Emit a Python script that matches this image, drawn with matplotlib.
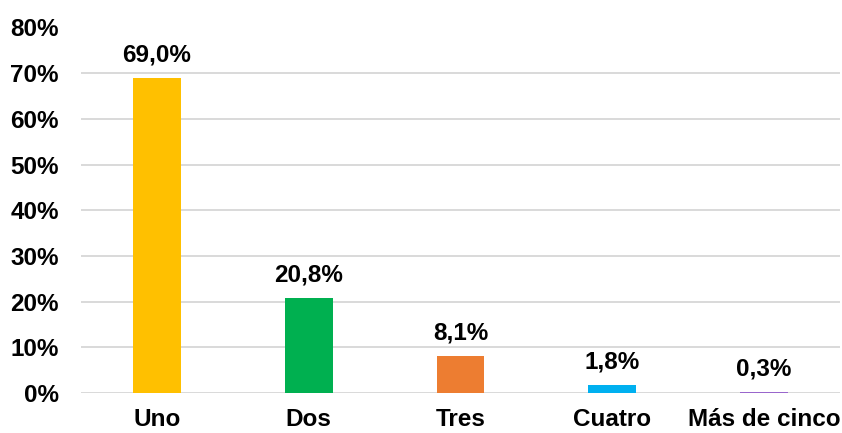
import matplotlib
matplotlib.use("Agg")
import matplotlib.pyplot as plt
from matplotlib.ticker import FuncFormatter

categories = ["Uno", "Dos", "Tres", "Cuatro", "Más de cinco"]
values = [69.0, 20.8, 8.1, 1.8, 0.3]
labels = ["69,0%", "20,8%", "8,1%", "1,8%", "0,3%"]
colors = ["#FFC000", "#00B050", "#ED7D31", "#00B0F0", "#9966CC"]

plt.rcParams['font.family'] = ['Liberation Sans', 'DejaVu Sans']
plt.rcParams['font.weight'] = 'bold'

fig = plt.figure(figsize=(8.42, 4.33), dpi=100)
ax = fig.add_axes([81/842, 1-393/433, (840-81)/842, (393-27.5)/433])

x = list(range(len(categories)))
bars = ax.bar(x, values, width=0.316, color=colors, zorder=3)
ax.set_xlim(-0.5, len(categories)-0.5)
ax.set_ylim(0, 80)
ax.set_yticks(range(0, 81, 10))
ax.yaxis.set_major_formatter(FuncFormatter(lambda v, p: f"{int(v)}%"))
ax.set_xticks(x)
ax.set_xticklabels(categories)
ax.grid(axis='y', color='#D9D9D9', linewidth=1.4, zorder=0)
for s in ax.spines.values():
    s.set_visible(False)
ax.tick_params(axis='both', length=0, labelsize=17.5)
ax.tick_params(axis='y', pad=16)
ax.tick_params(axis='x', pad=11)
for lab in ax.get_xticklabels() + ax.get_yticklabels():
    lab.set_fontweight('bold')

for xi, v, t in zip(x, values, labels):
    ax.annotate(t, (xi, v), xytext=(0, 8), textcoords='offset points',
                ha='center', va='bottom', fontsize=17.5, fontweight='bold')

fig.savefig("out.png", dpi=100)
